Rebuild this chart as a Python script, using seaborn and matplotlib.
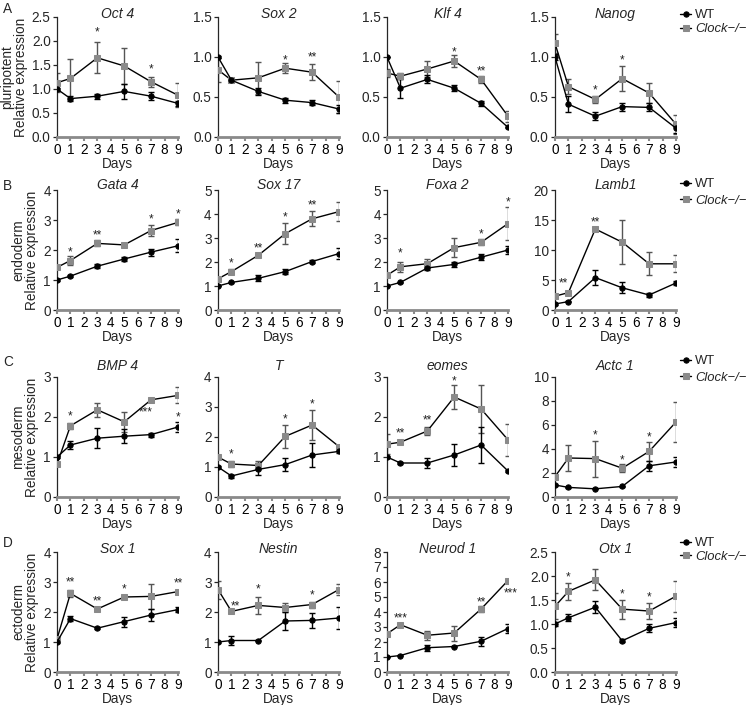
import numpy as np
import pandas as pd
import matplotlib
matplotlib.use("Agg")
import matplotlib.pyplot as plt
import seaborn as sns

# Dias de diferenciação
days = [0, 1, 3, 5, 7, 9]

# ---- pluripotent ----
oct4_wt = [1.0, 0.80, 0.85, 0.95, 0.85, 0.70]
oct4_wt_err = [0.03, 0.06, 0.05, 0.15, 0.08, 0.06]
oct4_ko = [1.13, 1.22, 1.65, 1.48, 1.15, 0.87]
oct4_ko_err = [0.20, 0.40, 0.32, 0.38, 0.10, 0.25]

sox2_wt = [1.0, 0.71, 0.57, 0.46, 0.43, 0.35]
sox2_wt_err = [0.01, 0.02, 0.04, 0.03, 0.03, 0.05]
sox2_ko = [0.84, 0.71, 0.74, 0.86, 0.81, 0.50]
sox2_ko_err = [0.15, 0.02, 0.20, 0.06, 0.10, 0.20]

klf4_wt = [1.0, 0.61, 0.72, 0.61, 0.42, 0.12]
klf4_wt_err = [0.0, 0.12, 0.05, 0.04, 0.03, 0.01]
klf4_ko = [0.80, 0.76, 0.85, 0.95, 0.72, 0.26]
klf4_ko_err = [0.05, 0.04, 0.10, 0.08, 0.04, 0.07]

nanog_wt = [1.0, 0.41, 0.26, 0.38, 0.37, 0.11]
nanog_wt_err = [0.04, 0.10, 0.05, 0.05, 0.05, 0.06]
nanog_ko = [1.17, 0.63, 0.47, 0.73, 0.55, 0.16]
nanog_ko_err = [0.12, 0.09, 0.04, 0.16, 0.13, 0.12]

# ---- endoderm ----
gata4_wt = [1.0, 1.13, 1.46, 1.70, 1.93, 2.14]
gata4_wt_err = [0.02, 0.03, 0.07, 0.08, 0.12, 0.22]
gata4_ko = [1.42, 1.65, 2.22, 2.17, 2.65, 2.92]
gata4_ko_err = [0.03, 0.15, 0.10, 0.08, 0.18, 0.10]

sox17_wt = [1.0, 1.15, 1.32, 1.60, 2.02, 2.35]
sox17_wt_err = [0.02, 0.03, 0.12, 0.10, 0.08, 0.22]
sox17_ko = [1.30, 1.60, 2.28, 3.18, 3.80, 4.10]
sox17_ko_err = [0.04, 0.12, 0.05, 0.45, 0.32, 0.38]

foxa2_wt = [1.0, 1.15, 1.75, 1.90, 2.20, 2.50]
foxa2_wt_err = [0.02, 0.03, 0.08, 0.12, 0.12, 0.18]
foxa2_ko = [1.45, 1.80, 1.93, 2.60, 2.82, 3.60]
foxa2_ko_err = [0.05, 0.22, 0.18, 0.40, 0.12, 0.68]

lamb1_wt = [1.0, 1.4, 5.4, 3.7, 2.5, 4.5]
lamb1_wt_err = [0.1, 0.1, 1.2, 0.9, 0.4, 0.4]
lamb1_ko = [2.3, 2.9, 13.5, 11.3, 7.7, 7.7]
lamb1_ko_err = [0.2, 0.2, 0.4, 3.7, 1.9, 1.4]

# ---- mesoderm ----
bmp4_wt = [1.0, 1.30, 1.47, 1.52, 1.56, 1.75]
bmp4_wt_err = [0.03, 0.10, 0.25, 0.18, 0.05, 0.12]
bmp4_ko = [0.82, 1.78, 2.18, 1.88, 2.43, 2.54]
bmp4_ko_err = [0.03, 0.07, 0.17, 0.25, 0.03, 0.20]

t_wt = [1.0, 0.70, 0.92, 1.08, 1.40, 1.52]
t_wt_err = [0.02, 0.05, 0.20, 0.22, 0.40, 0.05]
t_ko = [1.33, 1.10, 1.05, 2.02, 2.40, 1.68]
t_ko_err = [0.05, 0.10, 0.15, 0.38, 0.50, 0.03]

eomes_wt = [1.0, 0.85, 0.85, 1.05, 1.30, 0.65]
eomes_wt_err = [0.03, 0.03, 0.12, 0.28, 0.45, 0.02]
eomes_ko = [1.32, 1.37, 1.65, 2.50, 2.20, 1.43]
eomes_ko_err = [0.25, 0.05, 0.10, 0.30, 0.60, 0.40]

actc1_wt = [1.0, 0.80, 0.68, 0.88, 2.60, 2.92]
actc1_wt_err = [0.05, 0.05, 0.05, 0.05, 0.40, 0.45]
actc1_ko = [1.70, 3.25, 3.20, 2.40, 3.80, 6.25]
actc1_ko_err = [0.15, 1.10, 1.50, 0.35, 0.80, 1.70]

# ---- ectoderm ----
sox1_wt = [1.0, 1.78, 1.46, 1.68, 1.90, 2.08]
sox1_wt_err = [0.02, 0.08, 0.03, 0.17, 0.20, 0.08]
sox1_ko = [1.10, 2.62, 2.10, 2.50, 2.52, 2.68]
sox1_ko_err = [0.04, 0.12, 0.06, 0.08, 0.42, 0.05]

nestin_wt = [1.0, 1.05, 1.05, 1.70, 1.72, 1.80]
nestin_wt_err = [0.02, 0.15, 0.02, 0.30, 0.25, 0.38]
nestin_ko = [2.75, 2.02, 2.22, 2.15, 2.25, 2.75]
nestin_ko_err = [0.30, 0.06, 0.27, 0.15, 0.10, 0.18]

neurod1_wt = [1.0, 1.10, 1.62, 1.70, 2.05, 2.90]
neurod1_wt_err = [0.03, 0.05, 0.20, 0.05, 0.30, 0.30]
neurod1_ko = [2.55, 3.15, 2.45, 2.60, 4.20, 6.10]
neurod1_ko_err = [0.08, 0.05, 0.30, 0.50, 0.20, 0.08]

otx1_wt = [1.0, 1.13, 1.35, 0.65, 0.91, 1.03]
otx1_wt_err = [0.05, 0.07, 0.13, 0.03, 0.08, 0.10]
otx1_ko = [1.37, 1.68, 1.92, 1.31, 1.27, 1.58]
otx1_ko_err = [0.27, 0.18, 0.22, 0.20, 0.16, 0.32]

# Asteriscos de significância: (dia, y, texto)
oct4_stars = [(3, 2.17, "*"), (7, 1.40, "*")]
sox2_stars = [(5, 0.96, "*"), (7, 0.99, "**")]
klf4_stars = [(5, 1.06, "*"), (7, 0.82, "**")]
nanog_stars = [(3, 0.58, "*"), (5, 0.96, "*")]
gata4_stars = [(1, 1.93, "*"), (3, 2.50, "**"), (7, 3.02, "*"), (9, 3.20, "*")]
sox17_stars = [(1, 1.95, "*"), (3, 2.55, "**"), (5, 3.85, "*"), (7, 4.35, "**")]
foxa2_stars = [(1, 2.35, "*"), (7, 3.15, "*"), (9, 4.50, "*")]
lamb1_stars = [(0.6, 4.4, "**"), (3, 14.6, "**")]
bmp4_stars = [(1, 2.02, "*"), (6.6, 2.12, "***"), (9, 2.00, "*")]
t_stars = [(1, 1.42, "*"), (5, 2.60, "*"), (7, 3.10, "*")]
eomes_stars = [(1, 1.58, "**"), (3, 1.92, "**"), (5, 2.90, "*")]
actc1_stars = [(3, 5.10, "*"), (5, 3.05, "*"), (7, 4.95, "*")]
sox1_stars = [(1, 3.00, "**"), (3, 2.35, "**"), (5, 2.75, "*"), (9, 2.95, "**")]
nestin_stars = [(1.3, 2.20, "**"), (3, 2.75, "*"), (7, 2.55, "*")]
neurod1_stars = [(1, 3.55, "***"), (7, 4.65, "**"), (9.2, 5.25, "***")]
otx1_stars = [(1, 1.98, "*"), (5, 1.62, "*"), (7, 1.55, "*")]

row_names = ["pluripotent", "endoderm", "mesoderm", "ectoderm"]
row_letters = ["A", "B", "C", "D"]

panels = [
    [("Oct 4", oct4_wt, oct4_wt_err, oct4_ko, oct4_ko_err, oct4_stars, 2.5, 0.5),
     ("Sox 2", sox2_wt, sox2_wt_err, sox2_ko, sox2_ko_err, sox2_stars, 1.5, 0.5),
     ("Klf 4", klf4_wt, klf4_wt_err, klf4_ko, klf4_ko_err, klf4_stars, 1.5, 0.5),
     ("Nanog", nanog_wt, nanog_wt_err, nanog_ko, nanog_ko_err, nanog_stars, 1.5, 0.5)],
    [("Gata 4", gata4_wt, gata4_wt_err, gata4_ko, gata4_ko_err, gata4_stars, 4, 1),
     ("Sox 17", sox17_wt, sox17_wt_err, sox17_ko, sox17_ko_err, sox17_stars, 5, 1),
     ("Foxa 2", foxa2_wt, foxa2_wt_err, foxa2_ko, foxa2_ko_err, foxa2_stars, 5, 1),
     ("Lamb1", lamb1_wt, lamb1_wt_err, lamb1_ko, lamb1_ko_err, lamb1_stars, 20, 5)],
    [("BMP 4", bmp4_wt, bmp4_wt_err, bmp4_ko, bmp4_ko_err, bmp4_stars, 3, 1),
     ("T", t_wt, t_wt_err, t_ko, t_ko_err, t_stars, 4, 1),
     ("eomes", eomes_wt, eomes_wt_err, eomes_ko, eomes_ko_err, eomes_stars, 3, 1),
     ("Actc 1", actc1_wt, actc1_wt_err, actc1_ko, actc1_ko_err, actc1_stars, 10, 2)],
    [("Sox 1", sox1_wt, sox1_wt_err, sox1_ko, sox1_ko_err, sox1_stars, 4, 1),
     ("Nestin", nestin_wt, nestin_wt_err, nestin_ko, nestin_ko_err, nestin_stars, 4, 1),
     ("Neurod 1", neurod1_wt, neurod1_wt_err, neurod1_ko, neurod1_ko_err, neurod1_stars, 8, 1),
     ("Otx 1", otx1_wt, otx1_wt_err, otx1_ko, otx1_ko_err, otx1_stars, 2.5, 0.5)],
]

# Estilo
sns.set_style("ticks")
plt.rcParams["font.family"] = ["Liberation Sans", "DejaVu Sans"]
plt.rcParams["axes.linewidth"] = 0.9

W, H = 749, 705
fig = plt.figure(figsize=(W / 100, H / 100), dpi=100)

# posições em pixels
col_left = [57, 218, 387, 555]
row_top = [17, 190, 377, 552]
ax_w, ax_h = 121, 120
title_off = [3, 5, 11, 3]
legend_top = [9, 178, 355, 537]
legend_gap = [0.15, 0.35, 0.35, 0.1]
letter_y = [9, 186, 362, 543]

FS_TICK = 9.8
FS_LAB = 9.8
FS_TITLE = 10
FS_LEG = 9.4
KO_GRAY = "#8a8a8a"
ERR_GRAY = "#555555"

for r, row in enumerate(panels):
    for c, (gene, wt, wt_err, ko, ko_err, stars, ymax, ystep) in enumerate(row):
        ax = fig.add_axes([col_left[c] / W, 1 - (row_top[r] + ax_h) / H, ax_w / W, ax_h / H])
        df = pd.DataFrame({
            "day": days * 2,
            "value": wt + ko,
            "genotype": ["WT"] * 6 + ["Clock"] * 6,
        })
        # barras de erro
        ax.errorbar(days, ko, yerr=ko_err, fmt="none", ecolor=ERR_GRAY,
                    elinewidth=1.0, capsize=2, capthick=1.0, zorder=2)
        ax.errorbar(days, wt, yerr=wt_err, fmt="none", ecolor="black",
                    elinewidth=1.0, capsize=2, capthick=1.0, zorder=2)
        # linhas
        sns.lineplot(data=df[df.genotype == "Clock"], x="day", y="value", ax=ax,
                     color="black", lw=1.0, marker="s", markersize=4.5,
                     markerfacecolor=KO_GRAY, markeredgecolor=KO_GRAY, zorder=3,
                     label="Clock\u2212/\u2212", legend=False)
        sns.lineplot(data=df[df.genotype == "WT"], x="day", y="value", ax=ax,
                     color="black", lw=1.0, marker="o", markersize=3.8,
                     markerfacecolor="black", markeredgecolor="black", zorder=4,
                     label="WT", legend=False)

        for sx, sy, st in stars:
            ax.text(sx, sy, st, ha="center", va="center", fontsize=8.5, color="#222222")

        ax.set_xlim(0, 9)
        ax.set_ylim(0, ymax)
        ax.set_xticks(range(10))
        ax.set_yticks(np.arange(0, ymax + ystep / 2, ystep))
        if ystep < 1:
            ax.yaxis.set_major_formatter(matplotlib.ticker.FormatStrFormatter("%.1f"))
        ax.tick_params(axis="both", labelsize=FS_TICK, length=3, width=0.9, pad=1.5)
        ax.tick_params(axis="x", colors="#8a8a8a", labelcolor="black", width=1.5, length=3, pad=1)
        ax.spines["bottom"].set_color("#8a8a8a")
        ax.spines["bottom"].set_linewidth(2.0)
        ax.spines["top"].set_visible(False)
        ax.spines["right"].set_visible(False)
        ax.set_xlabel("Days", fontsize=FS_LAB, labelpad=0.5)
        if c == 0:
            ax.set_ylabel(f"{row_names[r]}\nRelative expression", fontsize=FS_LAB,
                          labelpad=3, linespacing=0.95)
        else:
            ax.set_ylabel("")
        ax.text(0.5, 1 + title_off[r] / ax_h, gene, transform=ax.transAxes,
                ha="center", va="center", fontsize=FS_TITLE, fontstyle="italic")

        if c == 3:
            handles, labels = ax.get_legend_handles_labels()
            order = [labels.index("WT"), labels.index("Clock\u2212/\u2212")]
            leg = ax.legend([handles[i] for i in order], [labels[i] for i in order],
                            loc="upper left",
                            bbox_to_anchor=(1.03, 1 + (row_top[r] - legend_top[r]) / ax_h),
                            frameon=False, borderaxespad=0, borderpad=0, handlelength=0.9,
                            handletextpad=0.3, labelspacing=legend_gap[r], fontsize=FS_LEG)
            leg.get_texts()[1].set_fontstyle("italic")

    fig.text(3 / W, 1 - letter_y[r] / H, row_letters[r], fontsize=FS_LAB,
             ha="left", va="center")

fig.savefig("out.png", dpi=100)
